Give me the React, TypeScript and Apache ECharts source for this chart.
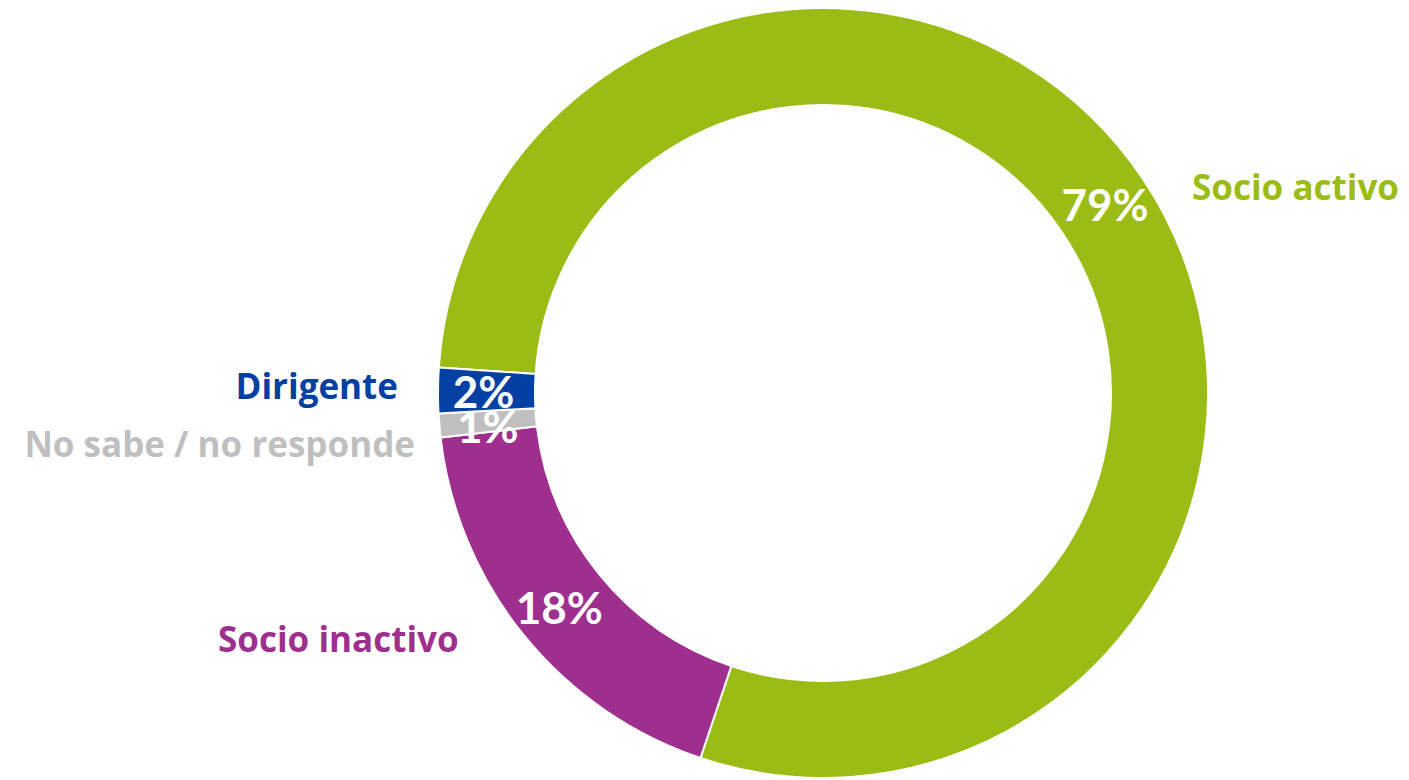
import React, { useEffect, useRef } from "react";
import * as echarts from "echarts";

const categories = ["Socio activo", "Socio inactivo", "No sabe / no responde", "Dirigente"];
const values = [79.1, 18.0, 1.0, 1.9];
const colors = ["#9BBC15", "#9F2F8F", "#BFBFBF", "#0340A3"];

// name label placement (x, y, align)
const namePos: [number, number, string][] = [
  [1192, 186, "left"],
  [218, 638, "left"],
  [415, 443, "right"],
  [398, 385, "right"],
];

export default function App() {
  const ref = useRef<HTMLDivElement>(null);
  useEffect(() => {
    document.body.style.margin = "0";
    const chart = echarts.init(ref.current!, null, { renderer: "svg" });
    const pctFont = "Lato, 'Open Sans', sans-serif";
    const nameFont = "'Open Sans', Lato, sans-serif";
    chart.setOption({
      animation: false,
      backgroundColor: "#ffffff",
      series: [
        {
          type: "pie",
          center: [823, 393],
          radius: [288, 385],
          startAngle: 176.2,
          clockwise: true,
          silent: true,
          avoidLabelOverlap: false,
          itemStyle: { borderColor: "#ffffff", borderWidth: 2 },
          label: {
            show: true,
            position: "inside",
            formatter: (p: any) => Math.round(p.value) + "%",
            color: "#ffffff",
            fontFamily: pctFont,
            fontWeight: "bold",
            fontSize: 44,
          },
          labelLine: { show: false },
          labelLayout: (p: any) => {
            if (p.dataIndex !== 2) return {};
            return {
              x: p.rect.x + p.rect.width / 2,
              y: p.rect.y + p.rect.height / 2 + 3,
              align: "center",
              verticalAlign: "middle",
            };
          },
          data: categories.map((c, i) => ({
            name: c,
            value: values[i],
            itemStyle: { color: colors[i] },
            label: i === 2 ? { position: "outside", distance: 0 } : undefined,
            labelLine: { show: false },
          })),
        },
      ],
      graphic: categories.map((c, i) => ({
        type: "text",
        x: namePos[i][0],
        y: namePos[i][1],
        style: {
          text: c,
          fill: colors[i],
          font: `bold 35px ${nameFont}`,
          align: namePos[i][2],
          verticalAlign: "middle",
        },
      })),
    });
    return () => chart.dispose();
  }, []);
  return <div ref={ref} style={{ width: 1409, height: 780 }} />;
}
